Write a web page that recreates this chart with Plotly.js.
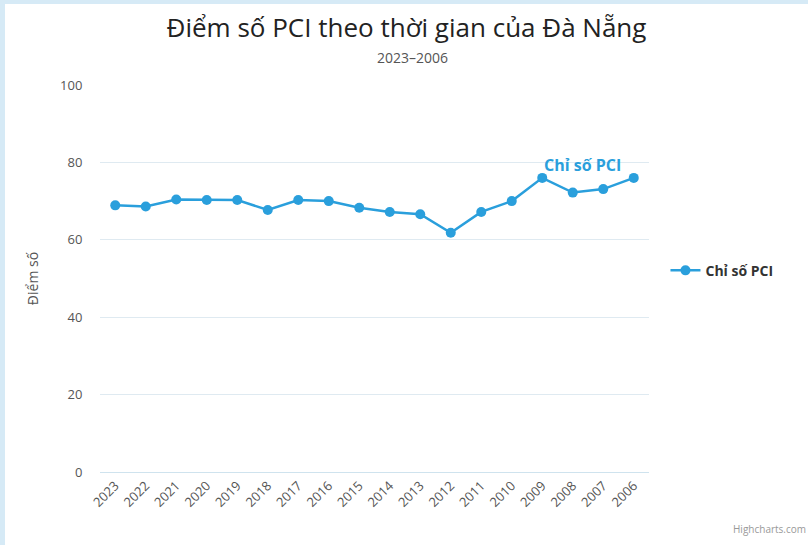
<!DOCTYPE html>
<html>
<head>
<meta charset="utf-8">
<script src="https://cdn.plot.ly/plotly-3.0.1.min.js"></script>
<style>
  html, body { margin: 0; padding: 0; background: #d6eaf6; }
  #frame { position: absolute; left: 5px; top: 4px; width: 803px; height: 541px; background: #ffffff; }
  #chart { width: 803px; height: 541px; }
</style>
</head>
<body>
<div id="frame"><div id="chart"></div></div>
<script>
const years = ['2023', '2022', '2021', '2020', '2019', '2018', '2017', '2016', '2015',
    '2014', '2013', '2012', '2011', '2010', '2009', '2008', '2007', '2006']
const pciScores = [68.9, 68.6, 70.4, 70.3, 70.3, 67.7, 70.3, 70.0, 68.3,
    67.2, 66.6, 61.8, 67.2, 70.0, 76.0, 72.2, 73.1, 76.0]
const yTicks = [0, 20, 40, 60, 80, 100]

const seriesName = 'Chỉ số PCI'
const lineColor = '#2a9fdc'
const labelIndex = years.indexOf('2009')

const trace = {
    x: years,
    y: pciScores,
    type: 'scatter',
    mode: 'lines+markers',
    name: seriesName,
    line: { color: lineColor, width: 2.5 },
    marker: { color: lineColor, size: 10 }
}

const layout = {
    width: 803,
    height: 541,
    paper_bgcolor: '#ffffff',
    plot_bgcolor: '#ffffff',
    font: { family: 'Open Sans, DejaVu Sans, sans-serif', color: '#666666' },
    margin: { l: 95, r: 159, t: 81, b: 73 },
    title: {
        text: 'Điểm số PCI theo thời gian của Đà Nẵng',
        font: { size: 26, color: '#222222', weight: 500 },
        x: 0.5,
        xanchor: 'center',
        y: 0.955,
        yanchor: 'middle'
    },
    xaxis: {
        type: 'category',
        range: [-0.5, years.length - 0.5],
        tickangle: -45,
        tickfont: { size: 13, color: '#555555' },
        showgrid: false,
        showline: true,
        linecolor: '#cfe3ee',
        linewidth: 1,
        zeroline: false
    },
    yaxis: {
        range: [0, 100],
        tickvals: yTicks,
        tickfont: { size: 13, color: '#555555' },
        ticks: 'outside',
        ticklen: 14,
        tickcolor: 'rgba(0,0,0,0)',
        gridcolor: '#dfeaf1',
        zeroline: false,
        title: { text: 'Điểm số', font: { size: 14, color: '#555555' }, standoff: 18 }
    },
    showlegend: true,
    legend: {
        x: 1.03,
        xanchor: 'left',
        y: 0.52,
        yanchor: 'middle',
        font: { size: 14, color: '#333333', weight: 'bold' }
    },
    annotations: [
        {
            xref: 'paper',
            yref: 'paper',
            x: 0.57,
            y: 1.07,
            xanchor: 'center',
            yanchor: 'middle',
            text: '2023–2006',
            showarrow: false,
            font: { size: 14, color: '#555555' }
        },
        {
            x: labelIndex,
            y: pciScores[labelIndex],
            text: '<b>' + seriesName + '</b>',
            showarrow: false,
            xanchor: 'left',
            yanchor: 'bottom',
            xshift: 0,
            yshift: 0,
            font: { size: 16, color: lineColor }
        },
        {
            xref: 'paper',
            yref: 'paper',
            x: 1.29,
            y: -0.17,
            xanchor: 'right',
            yanchor: 'bottom',
            text: 'Highcharts.com',
            showarrow: false,
            font: { size: 10, color: '#999999' }
        }
    ]
}

Plotly.newPlot('chart', [trace], layout, { displayModeBar: false })
</script>
</body>
</html>
